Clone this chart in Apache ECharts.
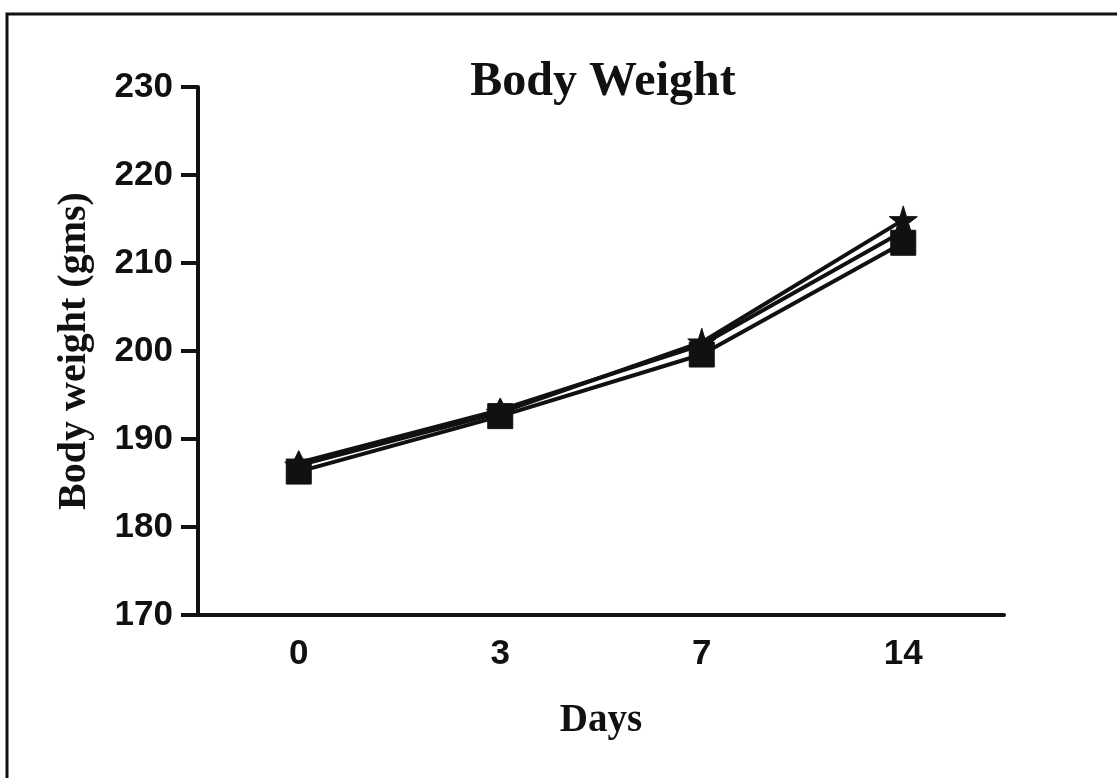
<!DOCTYPE html>
<html>
<head>
<meta charset="utf-8">
<script src="https://cdn.jsdelivr.net/npm/echarts@6/dist/echarts.min.js"></script>
<style>
html,body{margin:0;padding:0;background:#fff;}
#chart{width:1117px;height:778px;}
</style>
</head>
<body>
<div id="chart"></div>
<script>
const days = ['0', '3', '7', '14'];
const yTicks = [170, 180, 190, 200, 210, 220, 230];
const triangleSeries = [187.3, 193.3, 200.7, 213.6];
const starSeries = [187.0, 193.0, 201.0, 214.9];
const squareSeries = [186.3, 192.6, 199.6, 212.3];

const starPath = 'path://M50,0 L61,35 L98,35 L68,57 L79,91 L50,70 L21,91 L32,57 L2,35 L39,35 Z';

const chart = echarts.init(document.getElementById('chart'));
const lineStyle = {color: '#111', width: 4};
function mk(name, data, symbol, size) {
  return {
    name: name, type: 'line', data: data,
    symbol: symbol, symbolSize: size,
    lineStyle: lineStyle,
    itemStyle: {color: '#111', borderColor: '#111'},
    showAllSymbol: true, animation: false
  };
}
chart.setOption({
  animation: false,
  backgroundColor: '#fff',
  title: {
    text: 'Body Weight', left: 598, textAlign: 'center', top: 54,
    textStyle: {fontFamily: 'Liberation Serif', fontWeight: 'bold', fontSize: 48, color: '#111'}
  },
  graphic: [{
    type: 'rect', shape: {x: 7, y: 14, width: 1130, height: 800},
    style: {fill: 'none', stroke: '#111', lineWidth: 3}, silent: true
  }],
  grid: {left: 198, right: 113, top: 87, bottom: 163},
  xAxis: {
    type: 'category', data: days, boundaryGap: true,
    name: 'Days', nameLocation: 'middle', nameGap: 86,
    nameTextStyle: {fontFamily: 'Liberation Serif', fontWeight: 'bold', fontSize: 39, color: '#111'},
    axisLine: {lineStyle: {color: '#111', width: 4}},
    axisTick: {alignWithLabel: true, length: 14, lineStyle: {width: 4, color: '#111'}},
    axisLabel: {fontFamily: 'Liberation Sans', fontWeight: 'bold', fontSize: 35, color: '#111', margin: 22}
  },
  yAxis: {
    type: 'value', min: yTicks[0], max: yTicks[yTicks.length - 1], interval: 10,
    name: 'Body weight (gms)', nameLocation: 'middle', nameGap: 103, nameRotate: 90,
    nameTextStyle: {fontFamily: 'Liberation Serif', fontWeight: 'bold', fontSize: 40, color: '#111'},
    axisLine: {show: true, lineStyle: {color: '#111', width: 4}},
    axisTick: {show: true, length: 17, lineStyle: {width: 4, color: '#111'}},
    splitLine: {show: false},
    axisLabel: {fontFamily: 'Liberation Sans', fontWeight: 'bold', fontSize: 35, color: '#111', margin: 25}
  },
  series: [
    mk('Triangle', triangleSeries, 'triangle', 24),
    mk('Star', starSeries, starPath, 28),
    mk('Square', squareSeries, 'rect', 25)
  ]
});
</script>
</body>
</html>
